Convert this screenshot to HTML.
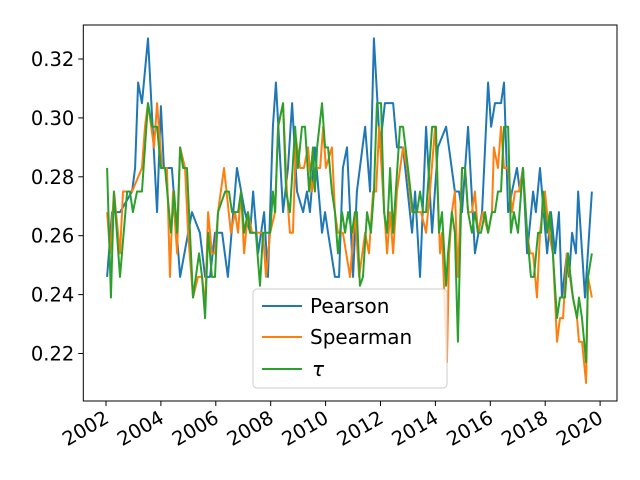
<!DOCTYPE html>
<html><head><meta charset="utf-8"><style>
html,body{margin:0;padding:0;background:#fff;}
svg{display:block;font-family:"DejaVu Sans","Liberation Sans",sans-serif;}
</style></head><body>
<svg id="chart" width="640" height="480" viewBox="0 0 640 480">
<rect x="0" y="0" width="640" height="480" fill="#fff"/>
<g id="plot"></g>
<g id="axes"></g>
<g id="legend">
<rect x="253" y="289" width="194" height="99" rx="4" fill="#fff" fill-opacity="0.8" stroke="#cccccc" stroke-width="1"/>
<line x1="262" y1="306" x2="302" y2="306" stroke="#1f77b4" stroke-width="2"/>
<text x="310" y="313" font-size="20">Pearson</text>
<line x1="262" y1="337" x2="302" y2="337" stroke="#ff7f0e" stroke-width="2"/>
<text x="310" y="344" font-size="20">Spearman</text>
<line x1="262" y1="369" x2="302" y2="369" stroke="#2ca02c" stroke-width="2"/>
<text x="312" y="376" font-size="20" font-style="italic">τ</text>
</g>
</svg>
<script>
const yTicks = [0.22,0.24,0.26,0.28,0.30,0.32];
const xTicks = [2002,2004,2006,2008,2010,2012,2014,2016,2018,2020];
const baseYear = 2002;
const pearsonT = [.04,.22,.51,.95,1.06,1.17,1.31,1.53,1.86,2.00,2.11,2.40,2.70,3.13,3.42,3.61,3.79,3.97,4.23,4.44,4.77,5.06,5.25,5.36,5.54,5.76,5.90,6.08,6.19,6.45,6.63,6.78,6.96,7.18,7.32,7.43,7.61,7.87,7.98,8.09,8.34,8.49,8.63,8.78,9.00,9.14,9.44,9.62,9.76,9.98,10.16,10.46,10.60,10.82,11.15,11.26,11.44,11.66,11.88,12.09,12.39,12.71,12.86,12.97,13.19,13.44,13.70,13.92,14.03,14.17,14.39,14.50,14.65,14.79,14.97,15.08,15.19,15.34,15.56,15.66,15.81,16.07,16.21,16.36,16.50,16.61,16.79,16.87,16.98,17.12,17.20,17.45,17.70];
const pearsonV = [.246,.268,.268,.275,.283,.312,.305,.327,.268,.304,.283,.283,.246,.268,.261,.246,.246,.261,.261,.246,.283,.268,.261,.275,.254,.268,.246,.297,.312,.268,.283,.305,.275,.268,.275,.268,.290,.261,.268,.261,.246,.246,.283,.290,.246,.275,.297,.275,.327,.290,.305,.305,.290,.290,.261,.275,.246,.297,.261,.290,.297,.275,.275,.268,.297,.254,.268,.312,.297,.305,.305,.312,.268,.275,.283,.275,.283,.254,.275,.268,.283,.254,.268,.254,.268,.239,.254,.246,.261,.254,.275,.239,.275];
const spearmanT = [.04,.15,.29,.51,.62,.95,1.31,1.42,1.53,1.75,1.86,2.04,2.22,2.33,2.44,2.59,2.70,2.88,2.99,3.17,3.35,3.50,3.61,3.72,3.86,3.97,4.08,4.30,4.55,4.70,4.81,4.92,5.03,5.17,5.32,5.50,5.72,5.83,5.98,6.16,6.27,6.45,6.59,6.70,6.81,6.92,7.07,7.21,7.36,7.50,7.65,7.80,7.91,8.01,8.23,8.34,8.45,8.63,8.89,9.07,9.22,9.44,9.58,9.73,9.84,9.95,10.09,10.24,10.35,10.46,10.60,10.82,10.97,11.15,11.33,11.48,11.66,11.80,11.99,12.17,12.24,12.42,12.50,12.60,12.71,12.82,12.97,13.08,13.19,13.33,13.44,13.55,13.73,13.92,14.06,14.13,14.28,14.39,14.50,14.65,14.79,14.90,15.05,15.19,15.34,15.45,15.56,15.70,15.81,15.99,16.14,16.28,16.43,16.54,16.65,16.79,16.90,17.01,17.16,17.23,17.34,17.49,17.56,17.70];
const spearmanV = [.268,.254,.275,.254,.275,.275,.283,.297,.305,.290,.305,.283,.283,.246,.275,.254,.290,.283,.261,.239,.246,.246,.236,.268,.254,.254,.268,.283,.261,.268,.261,.275,.254,.268,.261,.261,.261,.246,.261,.268,.297,.305,.275,.261,.261,.293,.283,.283,.290,.275,.283,.283,.297,.283,.290,.268,.261,.261,.246,.268,.246,.261,.254,.275,.275,.297,.275,.254,.268,.254,.275,.290,.283,.268,.268,.268,.261,.275,.297,.254,.261,.217,.254,.268,.275,.246,.283,.283,.268,.268,.275,.261,.268,.261,.268,.290,.283,.297,.283,.283,.268,.275,.275,.283,.261,.254,.254,.239,.261,.275,.261,.254,.224,.232,.232,.254,.246,.239,.232,.224,.224,.210,.246,.239];
const tauT = [.04,.18,.29,.51,.77,.87,.98,1.13,1.31,1.53,1.68,1.86,2.00,2.15,2.37,2.48,2.59,2.70,2.81,2.95,3.17,3.39,3.50,3.61,3.72,3.86,3.97,4.08,4.34,4.48,4.59,4.81,4.92,5.03,5.17,5.25,5.46,5.61,5.72,5.98,6.08,6.16,6.27,6.45,6.56,6.70,6.89,6.99,7.14,7.25,7.40,7.54,7.61,7.69,7.87,7.98,8.09,8.23,8.34,8.45,8.60,8.71,8.82,8.96,9.07,9.14,9.25,9.36,9.51,9.65,9.76,9.87,10.02,10.13,10.24,10.35,10.46,10.71,10.82,11.00,11.18,11.33,11.44,11.55,11.66,11.88,12.02,12.13,12.24,12.39,12.46,12.60,12.71,12.82,12.97,13.08,13.19,13.33,13.44,13.55,13.66,13.81,13.92,14.06,14.17,14.28,14.39,14.50,14.65,14.75,14.86,15.01,15.19,15.34,15.48,15.59,15.74,15.85,15.92,16.07,16.17,16.28,16.43,16.54,16.72,16.83,17.01,17.16,17.23,17.34,17.49,17.56,17.70];
const tauV = [.283,.239,.275,.246,.275,.275,.268,.275,.275,.305,.297,.297,.283,.283,.261,.275,.261,.290,.283,.283,.239,.254,.246,.232,.261,.246,.246,.268,.275,.275,.268,.268,.275,.261,.268,.261,.261,.243,.261,.261,.275,.268,.297,.305,.275,.268,.297,.283,.297,.297,.275,.290,.275,.290,.305,.290,.290,.275,.268,.254,.268,.261,.268,.261,.268,.268,.243,.246,.268,.261,.275,.305,.305,.268,.261,.283,.261,.297,.297,.283,.268,.268,.275,.268,.268,.297,.297,.261,.268,.243,.254,.268,.261,.224,.283,.283,.268,.261,.268,.261,.261,.268,.261,.268,.268,.275,.275,.297,.297,.261,.268,.261,.283,.261,.246,.246,.261,.261,.275,.261,.268,.254,.232,.239,.239,.254,.239,.232,.239,.232,.217,.246,.254];

const NS='http://www.w3.org/2000/svg';
const L=83.3,R=617,T=25,B=401;
const x0=2002,x0px=106,pxPerYear=27.45;
const y0=0.32,y0px=59,pxPerUnit=2945;
function xScale(yr){return x0px+(yr-x0)*pxPerYear;}
function yScale(v){return y0px-(v-y0)*pxPerUnit;}
const plot=document.getElementById('plot');
const axes=document.getElementById('axes');

function drawSeries(ts,vs,color,name){
  const n=Math.min(ts.length,vs.length);
  let d='';
  for(let i=0;i<n;i++){d+=(i?'L':'M')+xScale(baseYear+ts[i]).toFixed(2)+','+yScale(vs[i]).toFixed(2);}
  const p=document.createElementNS(NS,'path');
  p.setAttribute('d',d);p.setAttribute('fill','none');p.setAttribute('stroke',color);
  p.setAttribute('stroke-width','2');p.setAttribute('stroke-linejoin','round');
  
  
  plot.appendChild(p);
}
drawSeries(pearsonT,pearsonV,'#1f77b4','pearson-line');
drawSeries(spearmanT,spearmanV,'#ff7f0e','spearman-line');
drawSeries(tauT,tauV,'#2ca02c','tau-line');

const frame=document.createElementNS(NS,'rect');
frame.setAttribute('x',L);frame.setAttribute('y',T);frame.setAttribute('width',R-L);frame.setAttribute('height',B-T);
frame.setAttribute('fill','none');frame.setAttribute('stroke','#000');frame.setAttribute('stroke-width','1');


axes.appendChild(frame);

yTicks.forEach(v=>{
  const y=yScale(v);
  const t=document.createElementNS(NS,'line');
  t.setAttribute('x1',L-5);t.setAttribute('x2',L);t.setAttribute('y1',y);t.setAttribute('y2',y);t.setAttribute('stroke','#000');
  
  
  axes.appendChild(t);
  const tx=document.createElementNS(NS,'text');
  tx.setAttribute('x',L-9);tx.setAttribute('y',y+7);tx.setAttribute('text-anchor','end');tx.setAttribute('font-size','19.5');
  tx.textContent=v.toFixed(2);
  
  
  axes.appendChild(tx);
});
xTicks.forEach(yr=>{
  const x=xScale(yr);
  const t=document.createElementNS(NS,'line');
  t.setAttribute('x1',x);t.setAttribute('x2',x);t.setAttribute('y1',B);t.setAttribute('y2',B+5);t.setAttribute('stroke','#000');
  
  
  axes.appendChild(t);
  const tx=document.createElementNS(NS,'text');
  tx.setAttribute('text-anchor','end');tx.setAttribute('font-size','19.5');
  tx.setAttribute('transform','translate('+(x-3)+','+(B+8)+') rotate(-30)');
  tx.setAttribute('dy','0.75em');
  tx.textContent=String(yr);
  
  
  axes.appendChild(tx);
});
</script>
</body></html>
